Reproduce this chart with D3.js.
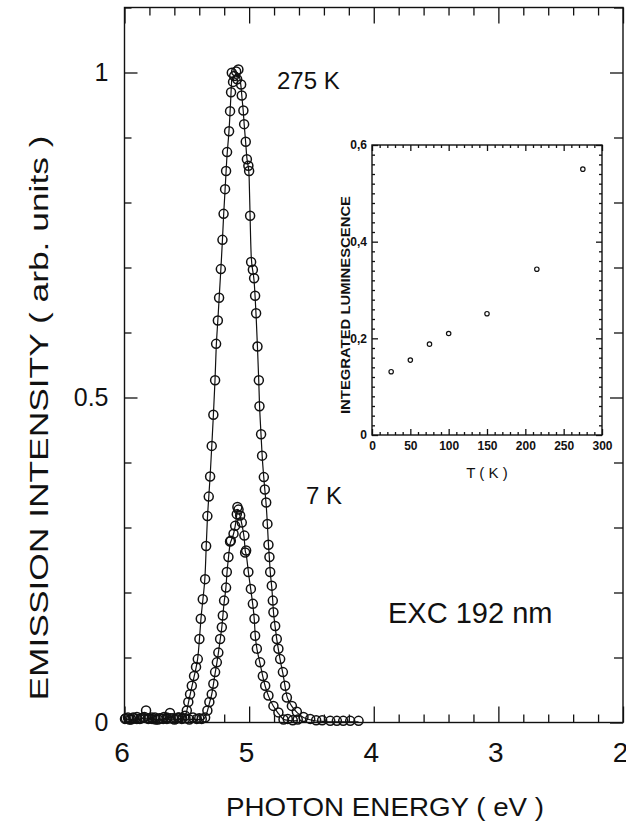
<!DOCTYPE html>
<html>
<head>
<meta charset="utf-8">
<script src="https://d3js.org/d3.v7.min.js"></script>
<style>
    body { margin: 0; background: #fff; }
    svg text { font-family: "Liberation Sans", Arial, sans-serif; fill: #111; }
    .axis path { display: none; }
    .axis line { stroke: #111; stroke-width: 1.3; }
</style>
</head>
<body>
<div id="chart"></div>
<script>
// emission spectrum at 275 K: photon energy (eV) and intensity (arb. units)
var energy275 = [5.996, 5.972, 5.948, 5.924, 5.900, 5.876, 5.851, 5.827, 5.803, 5.779, 5.755, 5.731, 5.707, 5.683, 5.659, 5.635, 5.610, 5.586, 5.562, 5.538,
    5.514, 5.500, 5.488, 5.474, 5.460, 5.442, 5.426, 5.412, 5.399, 5.388, 5.372, 5.353, 5.345, 5.335, 5.324, 5.313, 5.300, 5.287, 5.273, 5.265,
    5.251, 5.241, 5.227, 5.214, 5.205, 5.193, 5.185, 5.177, 5.161, 5.153, 5.145, 5.139, 5.129, 5.120, 5.104, 5.096, 5.086,
    5.064, 5.059, 5.046, 5.040, 5.027, 5.018, 5.006, 5.000, 4.992, 4.984, 4.970, 4.960, 4.952, 4.944, 4.933, 4.922, 4.917, 4.904,
    4.896, 4.882, 4.874, 4.863, 4.853, 4.845, 4.837, 4.831, 4.818, 4.810, 4.805, 4.791, 4.778, 4.765, 4.751, 4.729, 4.711, 4.697,
    4.657, 4.617, 4.564, 4.510, 4.462, 4.414, 4.349, 4.296, 4.245, 4.189, 4.122];
var intensity275 = [0.004, 0.006, 0.003, 0.005, 0.007, 0.004, 0.006, 0.017, 0.005, 0.004, 0.006, 0.003, 0.005, 0.007, 0.004, 0.013, 0.005, 0.004, 0.006, 0.005,
    0.009, 0.017, 0.030, 0.042, 0.055, 0.070, 0.084, 0.096, 0.127, 0.158, 0.188, 0.219, 0.270, 0.316, 0.346, 0.377, 0.424, 0.472, 0.525, 0.581,
    0.617, 0.652, 0.696, 0.741, 0.781, 0.819, 0.847, 0.876, 0.908, 0.939, 0.968, 0.998, 0.984, 0.993, 1.000, 0.988, 1.003,
    0.980, 0.963, 0.940, 0.919, 0.892, 0.865, 0.855, 0.847, 0.778, 0.707, 0.695, 0.682, 0.655, 0.628, 0.577, 0.525, 0.485, 0.442,
    0.409, 0.376, 0.357, 0.337, 0.304, 0.272, 0.253, 0.230, 0.209, 0.186, 0.168, 0.147, 0.127, 0.112, 0.096, 0.076, 0.055, 0.037,
    0.024, 0.015, 0.007, 0.004, 0.002, 0.002, 0.001, 0.001, 0.001, 0.001, 0.001];

// emission spectrum at 7 K
var energy7 = [5.990, 5.960, 5.930, 5.900, 5.870, 5.840, 5.810, 5.780, 5.750, 5.720, 5.690, 5.660, 5.630, 5.600, 5.570, 5.540, 5.510, 5.480, 5.450, 5.420,
    5.400, 5.380, 5.353, 5.335, 5.319, 5.300, 5.287, 5.273, 5.259, 5.247, 5.233, 5.219, 5.211, 5.201, 5.185, 5.179, 5.166, 5.153, 5.147,
    5.125, 5.112, 5.099, 5.094, 5.085, 5.072, 5.059, 5.038, 5.032, 5.024, 5.006, 4.986, 4.970, 4.957, 4.952, 4.938, 4.912, 4.890, 4.871,
    4.845, 4.805, 4.765, 4.724, 4.690, 4.650, 4.610];
var intensity7 = [0.005, 0.003, 0.006, 0.004, 0.005, 0.007, 0.004, 0.006, 0.003, 0.005, 0.004, 0.006, 0.005, 0.003, 0.006, 0.004, 0.005, 0.003, 0.006, 0.004,
    0.005, 0.004, 0.006, 0.017, 0.030, 0.042, 0.058, 0.076, 0.091, 0.106, 0.127, 0.145, 0.163, 0.186, 0.206, 0.230, 0.253, 0.277, 0.278,
    0.289, 0.301, 0.319, 0.330, 0.326, 0.317, 0.306, 0.286, 0.260, 0.263, 0.230, 0.204, 0.181, 0.158, 0.132, 0.112, 0.091, 0.070, 0.055,
    0.040, 0.024, 0.014, 0.003, 0.004, 0.002, 0.003];

// inset: integrated luminescence vs temperature
var tempK = [25, 50, 75, 100, 150, 215, 275];
var integrated = [0.131, 0.155, 0.188, 0.210, 0.251, 0.343, 0.550];

var xTicksMain = [6, 5, 4, 3, 2];
var yTicksMain = [0, 0.5, 1];

var width = 626, height = 834;
var svg = d3.select("#chart").append("svg")
    .attr("width", width)
    .attr("height", height);

var x = d3.scaleLinear().domain([6, 2]).range([124.5, 623]);
var y = d3.scaleLinear().domain([0, 1.1]).range([722.5, 7.5]);

// minor ticks every 0.2 eV and 0.1 units
var xMinor = d3.range(20, 61, 2).map(function(d) { return d / 10; }).filter(function(d) { return xTicksMain.indexOf(d) < 0; });
var yMinor = d3.range(0, 12).map(function(d) { return d / 10; }).filter(function(d) { return yTicksMain.indexOf(d) < 0; });

svg.append("g").attr("class", "axis")
    .attr("transform", "translate(0," + y(0) + ")")
    .call(d3.axisBottom(x).tickValues(xTicksMain).tickSize(-16).tickPadding(20).tickFormat(d3.format("d")))
    .call(function(g) { g.selectAll("text").attr("font-size", 28).attr("dx", -3); });
svg.append("g").attr("class", "axis")
    .attr("transform", "translate(0," + y(0) + ")")
    .call(d3.axisBottom(x).tickValues(xMinor).tickSize(-8).tickFormat(""));
svg.append("g").attr("class", "axis")
    .attr("transform", "translate(0," + y(1.1) + ")")
    .call(d3.axisTop(x).tickValues(xTicksMain).tickSize(-16).tickFormat(""));
svg.append("g").attr("class", "axis")
    .attr("transform", "translate(0," + y(1.1) + ")")
    .call(d3.axisTop(x).tickValues(xMinor).tickSize(-8).tickFormat(""));

svg.append("g").attr("class", "axis")
    .attr("transform", "translate(" + x(6) + ",0)")
    .call(d3.axisLeft(y).tickValues(yTicksMain).tickSize(-13).tickPadding(16).tickFormat(d3.format("")))
    .call(function(g) { g.selectAll("text").attr("font-size", 25); });
svg.append("g").attr("class", "axis")
    .attr("transform", "translate(" + x(6) + ",0)")
    .call(d3.axisLeft(y).tickValues(yMinor).tickSize(-7).tickFormat(""));
svg.append("g").attr("class", "axis")
    .attr("transform", "translate(" + x(2) + ",0)")
    .call(d3.axisRight(y).tickValues(yTicksMain).tickSize(-13).tickFormat(""));
svg.append("g").attr("class", "axis")
    .attr("transform", "translate(" + x(2) + ",0)")
    .call(d3.axisRight(y).tickValues(yMinor).tickSize(-9).tickFormat(""));

svg.append("rect")
    .attr("x", x(6)).attr("y", y(1.1))
    .attr("width", x(2) - x(6)).attr("height", y(0) - y(1.1))
    .attr("fill", "none").attr("stroke", "#111").attr("stroke-width", 1.4);

function drawSpectrum(en, inten) {
    var pts = en.map(function(e, i) { return [e, inten[i]]; });
    var line = d3.line()
        .x(function(d) { return x(d[0]); })
        .y(function(d) { return y(d[1]); })
        .curve(d3.curveBasis);
    svg.append("path")
        .datum(pts)
        .attr("d", line)
        .attr("fill", "none")
        .attr("stroke", "#111")
        .attr("stroke-width", 1.2);
    svg.append("g").selectAll("circle")
        .data(pts)
        .enter()
        .append("circle")
        .attr("cx", function(d) { return x(d[0]); })
        .attr("cy", function(d) { return y(d[1]) - 1; })
        .attr("r", 4.5)
        .attr("fill", "none")
        .attr("stroke", "#111")
        .attr("stroke-width", 1.5);
}
drawSpectrum(energy275, intensity275);
drawSpectrum(energy7, intensity7);

svg.append("text").attr("x", 277).attr("y", 89).attr("font-size", 24).text("275 K");
svg.append("text").attr("x", 306).attr("y", 504).attr("font-size", 24).text("7 K");
svg.append("text").attr("x", 388).attr("y", 623).attr("font-size", 29).text("EXC 192 nm");

svg.append("text")
    .attr("x", 385).attr("y", 816)
    .attr("text-anchor", "middle")
    .attr("font-size", 25)
    .attr("textLength", 318).attr("lengthAdjust", "spacingAndGlyphs")
    .text("PHOTON ENERGY ( eV )");
svg.append("text")
    .attr("transform", "translate(48,418) rotate(-90)")
    .attr("text-anchor", "middle")
    .attr("font-size", 25)
    .attr("textLength", 565).attr("lengthAdjust", "spacingAndGlyphs")
    .text("EMISSION INTENSITY ( arb. units )");

// inset
var ix = d3.scaleLinear().domain([0, 300]).range([372, 602]);
var iy = d3.scaleLinear().domain([0, 0.6]).range([435, 145]);
var inset = svg.append("g");
var ixMajor = d3.range(0, 301, 50);
var ixMinor = d3.range(0, 301, 10).filter(function(d) { return d % 50 !== 0; });
var iyMajor = [0, 0.2, 0.4, 0.6];
var iyMinor = d3.range(0, 31).map(function(d) { return d * 0.02; }).filter(function(d, i) { return i % 10 !== 0; });
var commaFmt = function(d) { return d === 0 ? "0" : d3.format(".1f")(d).replace(".", ","); };

inset.append("g").attr("class", "axis")
    .attr("transform", "translate(0,435)")
    .call(d3.axisBottom(ix).tickValues(ixMajor).tickSize(-6).tickPadding(6).tickFormat(d3.format("d")))
    .call(function(g) { g.selectAll("text").attr("font-size", 12).attr("font-weight", "bold"); });
inset.append("g").attr("class", "axis")
    .attr("transform", "translate(0,435)")
    .call(d3.axisBottom(ix).tickValues(ixMinor).tickSize(-3).tickFormat(""));
inset.append("g").attr("class", "axis")
    .attr("transform", "translate(0,145)")
    .call(d3.axisTop(ix).tickValues(ixMajor).tickSize(-6).tickFormat(""));
inset.append("g").attr("class", "axis")
    .attr("transform", "translate(0,145)")
    .call(d3.axisTop(ix).tickValues(ixMinor).tickSize(-3).tickFormat(""));
inset.append("g").attr("class", "axis")
    .attr("transform", "translate(372,0)")
    .call(d3.axisLeft(iy).tickValues(iyMajor).tickSize(-6).tickPadding(5).tickFormat(commaFmt))
    .call(function(g) { g.selectAll("text").attr("font-size", 12).attr("font-weight", "bold"); });
inset.append("g").attr("class", "axis")
    .attr("transform", "translate(372,0)")
    .call(d3.axisLeft(iy).tickValues(iyMinor).tickSize(-3).tickFormat(""));
inset.append("g").attr("class", "axis")
    .attr("transform", "translate(602,0)")
    .call(d3.axisRight(iy).tickValues(iyMajor).tickSize(-6).tickFormat(""));
inset.append("g").attr("class", "axis")
    .attr("transform", "translate(602,0)")
    .call(d3.axisRight(iy).tickValues(iyMinor).tickSize(-3).tickFormat(""));
inset.selectAll(".axis line").attr("stroke-width", 1);

inset.append("rect")
    .attr("x", 372).attr("y", 145).attr("width", 230).attr("height", 290)
    .attr("fill", "none").attr("stroke", "#111").attr("stroke-width", 1.4);

inset.selectAll("circle.pt")
    .data(tempK)
    .enter()
    .append("circle")
    .attr("class", "pt")
    .attr("cx", function(d) { return ix(d); })
    .attr("cy", function(d, i) { return iy(integrated[i]); })
    .attr("r", 2.2)
    .attr("fill", "none")
    .attr("stroke", "#111")
    .attr("stroke-width", 1.2);

inset.append("text")
    .attr("x", 487).attr("y", 478)
    .attr("text-anchor", "middle")
    .attr("font-size", 15)
    .text("T ( K )");
inset.append("text")
    .attr("transform", "translate(350,305) rotate(-90)")
    .attr("text-anchor", "middle")
    .attr("font-size", 13)
    .attr("font-weight", "bold")
    .attr("textLength", 218).attr("lengthAdjust", "spacingAndGlyphs")
    .text("INTEGRATED LUMINESCENCE");
</script>
</body>
</html>
